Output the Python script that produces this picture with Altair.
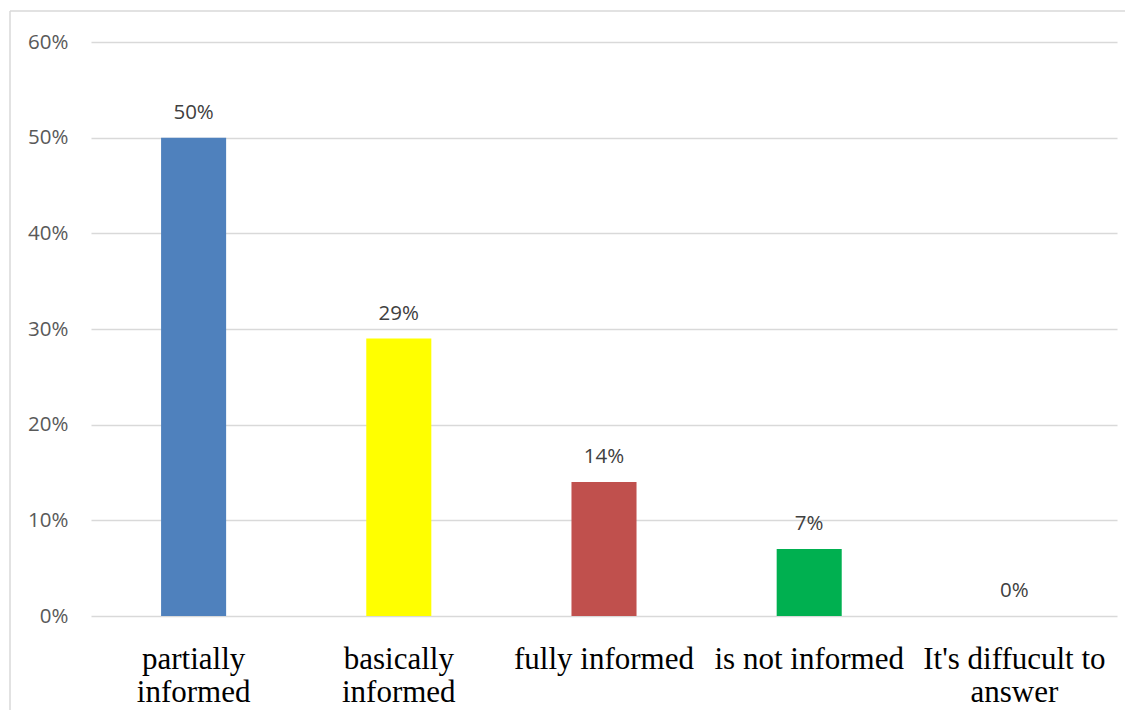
import json
import altair as alt
import pandas as pd

categories = ["partially informed", "basically informed", "fully informed",
              "is not informed", "It's diffucult to answer"]
label_lines = [["partially", "informed"], ["basically", "informed"], ["fully informed"],
               ["is not informed"], ["It's diffucult to", "answer"]]
values = [0.50, 0.29, 0.14, 0.07, 0.0]
colors = ["#4F81BD", "#FFFF00", "#C0504D", "#00B050", "#8064A2"]
y_ticks = [0, 0.1, 0.2, 0.3, 0.4, 0.5, 0.6]

df = pd.DataFrame({"category": categories, "value": values})

expr = "null"
for cat, lines in reversed(list(zip(categories, label_lines))):
    expr = f"datum.value == {json.dumps(cat)} ? {json.dumps(lines)} : ({expr})"

x_enc = alt.X("category:N", sort=categories,
              scale=alt.Scale(paddingInner=0.683, paddingOuter=0.3415),
              axis=alt.Axis(title=None, labelAngle=0, domain=False, ticks=False, grid=False,
                            labelFont="Liberation Serif", labelFontSize=31,
                            labelColor="#000000", labelPadding=28, labelLimit=400,
                            labelLineHeight=33, labelBaseline="top", labelExpr=expr))
y_enc = alt.Y("value:Q", scale=alt.Scale(domain=[0, 0.6]),
              axis=alt.Axis(title=None, values=y_ticks, format=".0%", domain=False,
                            ticks=False, labelFont="Open Sans", labelFontSize=20.5,
                            labelColor="#595959", labelPadding=23,
                            gridColor="#D9D9D9", gridWidth=1.5))

bars = alt.Chart(df).mark_bar().encode(
    x=x_enc, y=y_enc,
    color=alt.Color("category:N", sort=categories,
                    scale=alt.Scale(domain=categories, range=colors), legend=None),
)

labels = alt.Chart(df).mark_text(font="Open Sans", fontSize=20.5, color="#404040",
                                 baseline="alphabetic", dy=-19).encode(
    x=alt.X("category:N", sort=categories),
    y="value:Q",
    text=alt.Text("value:Q", format=".0%"),
)

border_data = alt.Data(values=[{"a": 1}])
vrule = alt.Chart(border_data).mark_rule(color="#D9D9D9", strokeWidth=1.5).encode(
    x=alt.value(-81), y=alt.value(-31), y2=alt.value(720))
hrule = alt.Chart(border_data).mark_rule(color="#D9D9D9", strokeWidth=1.5).encode(
    y=alt.value(-31), x=alt.value(-81), x2=alt.value(1040))

chart = alt.layer(bars, labels, vrule, hrule).properties(
    width=1026, height=574,
    background="white",
    autosize=alt.AutoSizeParams(type="none"),
    padding={"left": 83, "top": 34, "right": 8, "bottom": 94},
).configure_view(strokeWidth=0, stroke="transparent")

chart.save("out.html", embed_options={"renderer": "svg", "actions": False})
